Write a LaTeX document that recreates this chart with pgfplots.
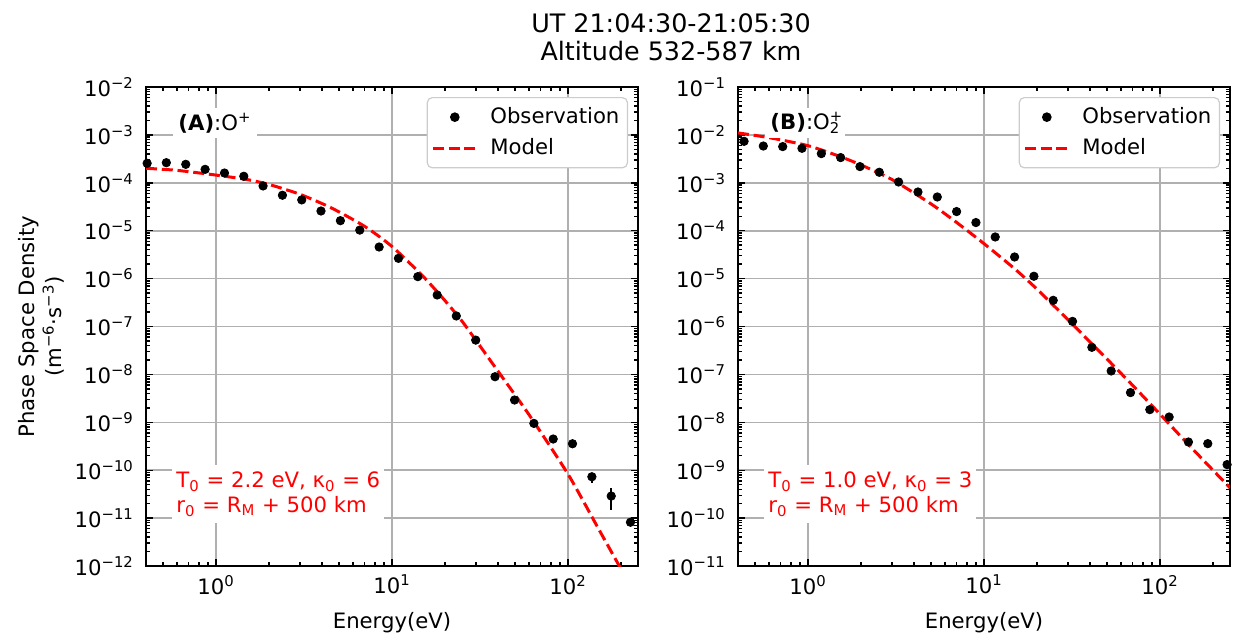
\documentclass[border=0pt]{standalone}
\usepackage{fontspec}
\setmainfont{DejaVu Sans}
\usepackage{pgfplots}
\usepackage{pgfplotstable}
\pgfplotsset{compat=1.18}
\definecolor{gridc}{HTML}{B0B0B0}
\definecolor{legc}{HTML}{CCCCCC}
\newcommand{\fs}{\fontsize{10.6pt}{12.7pt}\selectfont}

\pgfplotstableread{
x y ep em
0.406 2.55e-4 0 0
0.522 2.63e-4 0 0
0.673 2.43e-4 0 0
0.867 1.91e-4 0 0
1.117 1.60e-4 0 0
1.438 1.37e-4 0 0
1.851 8.6e-5 0 0
2.384 5.5e-5 0 0
3.07 4.4e-5 0 0
3.95 2.58e-5 0 0
5.09 1.62e-5 0 0
6.56 1.03e-5 0 0
8.45 4.57e-6 0 0
10.88 2.65e-6 0 0
14.02 1.10e-6 0 0
18.06 4.55e-7 0 0
23.2 1.66e-7 0 0
29.9 5.2e-8 0 0
38.5 8.95e-9 0 0
49.7 2.92e-9 0 0
64.0 9.5e-10 0 0
82.4 4.48e-10 0 0
106.1 3.57e-10 0 0
136.7 7.3e-11 1.6e-11 2.0e-11
176.1 2.89e-11 1.3e-11 1.4e-11
226.5 8.2e-12 0 0
}\dataA

\pgfplotstableread{
x y
0.4 2.01e-4
0.6 1.82e-4
1.0 1.45e-4
1.5 1.17e-4
2.0 9.25e-5
3.0 5.75e-5
4.5 3.02e-5
7.0 1.23e-5
10 4.68e-6
15 1.12e-6
20 3.47e-7
25 1.29e-7
30 5.13e-8
40 1.17e-8
60 1.45e-9
100 8.3e-11
150 5.75e-12
200 8.7e-13
}\modelA

\pgfplotstableread{
x y
0.433 7.35e-3
0.557 5.86e-3
0.718 5.70e-3
0.924 5.25e-3
1.190 4.07e-3
1.532 3.36e-3
1.973 2.18e-3
2.541 1.66e-3
3.272 1.04e-3
4.214 6.43e-4
5.426 5.06e-4
6.987 2.51e-4
8.995 1.48e-4
11.58 7.40e-5
14.92 2.83e-5
19.21 1.12e-5
24.73 3.52e-6
31.84 1.28e-6
41.01 3.68e-7
52.80 1.18e-7
67.99 4.17e-8
87.54 1.84e-8
112.7 1.29e-8
145.1 3.88e-9
186.9 3.59e-9
240.6 1.31e-9
}\dataB

\pgfplotstableread{
x y
0.4 1.10e-2
0.6 8.77e-3
1.0 5.96e-3
1.5 3.60e-3
2.0 2.36e-3
3.0 1.17e-3
5.0 3.63e-4
7.0 1.48e-4
10 5.37e-5
15 1.58e-5
20 6.03e-6
30 1.38e-6
50 2.09e-7
70 5.89e-8
100 1.48e-8
150 3.02e-9
250 4.27e-10
}\modelB

\pgfplotsset{
  zzobsleg/.style={legend image code/.code={\draw[mark repeat=2,mark phase=2,##1] plot coordinates {(0pt,0pt) (11pt,0pt) (22pt,0pt)};\path (26pt,0pt);}},
  zzlineleg/.style={legend image code/.code={\draw[##1] (0pt,0pt) -- (22pt,0pt);\path (26pt,0pt);}},
}
\tikzset{
  zzlab/.style={anchor=west, fill=white, inner sep=2.5pt, font=\fs},
  zzred/.style={anchor=west, fill=white, text=red, align=left, inner xsep=2pt, inner ysep=3.5pt,
    font=\fontsize{10.6pt}{12.5pt}\selectfont},
}

\begin{document}
\begin{tikzpicture}
\path[use as bounding box] (0,0) rectangle (618pt,317pt);

\begin{axis}[at={(73pt,34pt)},
    scale only axis, width=246pt, height=239.5pt, anchor=south west,
    xmode=log, ymode=log,
    xmin=0.4, xmax=250,
    axis line style={line width=0.9pt},
    tick align=inside, xtick pos=both, ytick pos=both,
    major tick length=3.5pt, minor tick length=2pt,
    every tick/.style={black, line width=0.7pt},
    grid=major, major grid style={gridc, line width=0.8pt},
    xtick={1,10,100},
    xticklabels={10\textsuperscript{0},10\textsuperscript{1},10\textsuperscript{2}},
    minor xtick={0.4,0.5,0.6,0.7,0.8,0.9,2,3,4,5,6,7,8,9,20,30,40,50,60,70,80,90,200},
    tick label style={font=\fs},
    yticklabel style={xshift=-2.5pt},
    xticklabel style={yshift=-1pt},
    xlabel={Energy(eV)},
    xlabel style={font=\fs, at={(axis description cs:0.5,0)}, anchor=base, yshift=-31pt},
    legend cell align=left,
    legend style={at={(1,1)}, anchor=north east, xshift=-5pt, yshift=-5pt,
      draw=legc, line width=0.6pt, rounded corners=2.5pt, fill=white,
      font=\fs, inner xsep=2pt, inner ysep=3pt, row sep=2pt},
  ymin=1e-12, ymax=1e-2,
  ytick={1e-12,1e-11,1e-10,1e-9,1e-8,1e-7,1e-6,1e-5,1e-4,1e-3,1e-2},
  yticklabels={10\textsuperscript{−12},10\textsuperscript{−11},10\textsuperscript{−10},10\textsuperscript{−9},10\textsuperscript{−8},10\textsuperscript{−7},10\textsuperscript{−6},10\textsuperscript{−5},10\textsuperscript{−4},10\textsuperscript{−3},10\textsuperscript{−2}},
  minor ytick={2e-12,3e-12,4e-12,5e-12,6e-12,7e-12,8e-12,9e-12,
    2e-11,3e-11,4e-11,5e-11,6e-11,7e-11,8e-11,9e-11,
    2e-10,3e-10,4e-10,5e-10,6e-10,7e-10,8e-10,9e-10,
    2e-9,3e-9,4e-9,5e-9,6e-9,7e-9,8e-9,9e-9,
    2e-8,3e-8,4e-8,5e-8,6e-8,7e-8,8e-8,9e-8,
    2e-7,3e-7,4e-7,5e-7,6e-7,7e-7,8e-7,9e-7,
    2e-6,3e-6,4e-6,5e-6,6e-6,7e-6,8e-6,9e-6,
    2e-5,3e-5,4e-5,5e-5,6e-5,7e-5,8e-5,9e-5,
    2e-4,3e-4,4e-4,5e-4,6e-4,7e-4,8e-4,9e-4,
    2e-3,3e-3,4e-3,5e-3,6e-3,7e-3,8e-3,9e-3},
]
\addplot[only marks, mark=*, mark size=2.1pt, black, zzobsleg,
  error bars/.cd, y dir=both, y explicit, error mark=none,
  error bar style={line width=1.2pt, black}]
  table[x=x, y=y, y error plus=ep, y error minus=em] {\dataA};
\addlegendentry{Observation}
\addplot[red, line width=1.5pt, dash pattern=on 5.5pt off 2.4pt, smooth, tension=0.4, zzlineleg]
  table[x=x, y=y] {\modelA};
\addlegendentry{Model}
\node[zzlab] at (rel axis cs:0.055,0.925) {\textbf{(A)}:O\textsuperscript{+}};
\node[zzred] at (rel axis cs:0.053,0.150) {T\textsubscript{0} = 2.2 eV, κ\textsubscript{0} = 6\\r\textsubscript{0} = R\textsubscript{M} + 500 km};
\end{axis}

\begin{axis}[at={(369pt,34pt)},
    scale only axis, width=246pt, height=239.5pt, anchor=south west,
    xmode=log, ymode=log,
    xmin=0.4, xmax=250,
    axis line style={line width=0.9pt},
    tick align=inside, xtick pos=both, ytick pos=both,
    major tick length=3.5pt, minor tick length=2pt,
    every tick/.style={black, line width=0.7pt},
    grid=major, major grid style={gridc, line width=0.8pt},
    xtick={1,10,100},
    xticklabels={10\textsuperscript{0},10\textsuperscript{1},10\textsuperscript{2}},
    minor xtick={0.4,0.5,0.6,0.7,0.8,0.9,2,3,4,5,6,7,8,9,20,30,40,50,60,70,80,90,200},
    tick label style={font=\fs},
    yticklabel style={xshift=-2.5pt},
    xticklabel style={yshift=-1pt},
    xlabel={Energy(eV)},
    xlabel style={font=\fs, at={(axis description cs:0.5,0)}, anchor=base, yshift=-31pt},
    legend cell align=left,
    legend style={at={(1,1)}, anchor=north east, xshift=-5pt, yshift=-5pt,
      draw=legc, line width=0.6pt, rounded corners=2.5pt, fill=white,
      font=\fs, inner xsep=2pt, inner ysep=3pt, row sep=2pt},
  ymin=1e-11, ymax=1e-1,
  ytick={1e-11,1e-10,1e-9,1e-8,1e-7,1e-6,1e-5,1e-4,1e-3,1e-2,1e-1},
  yticklabels={10\textsuperscript{−11},10\textsuperscript{−10},10\textsuperscript{−9},10\textsuperscript{−8},10\textsuperscript{−7},10\textsuperscript{−6},10\textsuperscript{−5},10\textsuperscript{−4},10\textsuperscript{−3},10\textsuperscript{−2},10\textsuperscript{−1}},
  minor ytick={2e-11,3e-11,4e-11,5e-11,6e-11,7e-11,8e-11,9e-11,
    2e-10,3e-10,4e-10,5e-10,6e-10,7e-10,8e-10,9e-10,
    2e-9,3e-9,4e-9,5e-9,6e-9,7e-9,8e-9,9e-9,
    2e-8,3e-8,4e-8,5e-8,6e-8,7e-8,8e-8,9e-8,
    2e-7,3e-7,4e-7,5e-7,6e-7,7e-7,8e-7,9e-7,
    2e-6,3e-6,4e-6,5e-6,6e-6,7e-6,8e-6,9e-6,
    2e-5,3e-5,4e-5,5e-5,6e-5,7e-5,8e-5,9e-5,
    2e-4,3e-4,4e-4,5e-4,6e-4,7e-4,8e-4,9e-4,
    2e-3,3e-3,4e-3,5e-3,6e-3,7e-3,8e-3,9e-3,
    2e-2,3e-2,4e-2,5e-2,6e-2,7e-2,8e-2,9e-2},
]
\addplot[only marks, mark=*, mark size=2.1pt, black, zzobsleg]
  table[x=x, y=y] {\dataB};
\addlegendentry{Observation}
\addplot[red, line width=1.5pt, dash pattern=on 5.5pt off 2.4pt, smooth, tension=0.4, zzlineleg]
  table[x=x, y=y] {\modelB};
\addlegendentry{Model}
\node[zzlab] at (rel axis cs:0.055,0.925) {\textbf{(B)}:O\rlap{\textsuperscript{+}}\textsubscript{2}\hspace{0.3em}};
\node[zzred] at (rel axis cs:0.053,0.150) {T\textsubscript{0} = 1.0 eV, κ\textsubscript{0} = 3\\r\textsubscript{0} = R\textsubscript{M} + 500 km};
\end{axis}

\node[anchor=base, font=\fontsize{12.7pt}{15pt}\selectfont] at (335.5pt,300.85pt) {UT 21:04:30-21:05:30};
\node[anchor=base, font=\fontsize{12.7pt}{15pt}\selectfont] at (335.5pt,286.65pt) {Altitude 532-587 km};
\node[rotate=90, align=center, font=\fontsize{10.6pt}{13.5pt}\selectfont] at (20.75pt,153.75pt) {Phase Space Density\\(m\textsuperscript{−6}·s\textsuperscript{−3})};
\end{tikzpicture}
\end{document}
